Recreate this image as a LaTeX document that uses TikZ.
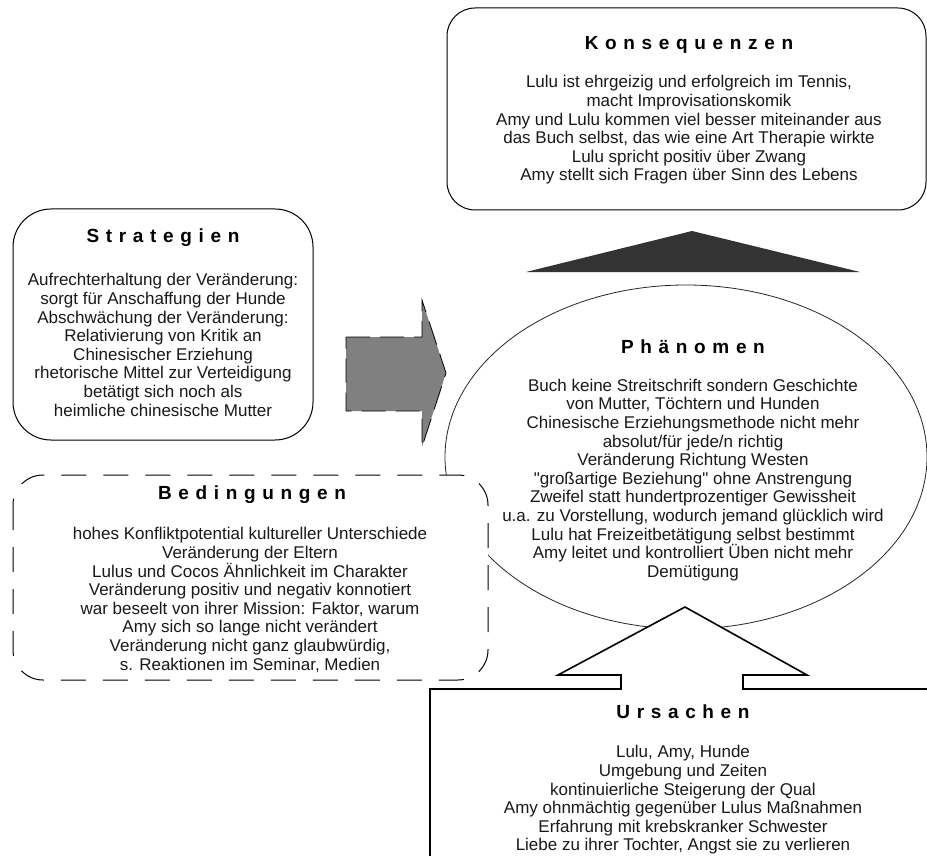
\documentclass[tikz,border=0pt]{standalone}
\usepackage{fontspec}
\setmainfont{Liberation Sans}
\usepackage{tikz}
\newcommand\phqt{\XeTeXglyph\XeTeXcharglyph"22\relax}
\tikzset{
  phbox/.style={draw=black, line width=1pt, fill=white},
  phdash/.style={draw=black, line width=1pt, fill=white, dash pattern=on 25pt off 17pt},
  phoval/.style={draw=black!85, line width=0.8pt, fill=white},
  phshift/.style={fill=black!50, draw=black, line width=0.8pt, dash pattern=on 24pt off 10pt},
  phwedge/.style={fill=black!80, draw=none},
  phcause/.style={fill=white, draw=black, line width=1.6pt, line join=miter},
  phtitle/.style={font=\fontsize{19}{22}\selectfont\bfseries\addfontfeature{LetterSpace=35}, text=black, inner sep=0pt},
  phtext/.style={font=\fontsize{17}{18.6}\selectfont, text=black!90, align=center, inner sep=0pt},
}
\begin{document}
\begin{tikzpicture}[x=1pt, y=-1pt]
\useasboundingbox (0,0) rectangle (927,856);
\clip (0,0) rectangle (927,856);
% frames
\draw[phbox, rounded corners=28pt] (447,8) rectangle (926,210);
\draw[phbox, rounded corners=38pt] (13,209) rectangle (313,440);
\draw[phoval] (686,457) ellipse (241 and 172);
\draw[phdash, rounded corners=30pt] (13,475) rectangle (488,680);
% arrows
\draw[phshift] (346,337) -- (422,337) -- (422,300) -- (446,373) -- (422,447) -- (422,411) -- (346,411) -- cycle;
\draw[phwedge] (526,272) -- (692,231) -- (860,272) -- cycle;
\draw[phcause] (430,870) -- (430,689) -- (621,689) -- (621,675) -- (558,675) -- (685,607)
  -- (807,675) -- (743,675) -- (743,689) -- (940,689) -- (940,870) -- cycle;
% texts
\node[phtitle] (konsTitle) at (689,45) {Konsequenzen};
\node[phtext] (konsText) at (689,130) {Lulu ist ehrgeizig und erfolgreich im Tennis,\\
macht Improvisationskomik\\
Amy und Lulu kommen viel besser miteinander aus\\
das Buch selbst, das wie eine Art Therapie wirkte\\
Lulu spricht positiv über Zwang\\
Amy stellt sich Fragen über Sinn des Lebens};
\node[phtitle] (stratTitle) at (163,238) {Strategien};
\node[phtext] (stratText) at (163,345) {Aufrechterhaltung der Veränderung:\\
sorgt für Anschaffung der Hunde\\
Abschwächung der Veränderung:\\
Relativierung von Kritik an\\
Chinesischer Erziehung\\
rhetorische Mittel zur Verteidigung\\
betätigt sich noch als\\
heimliche chinesische Mutter};
\node[phtitle] (bedTitle) at (252,495) {Bedingungen};
\node[phtext] (bedText) at (250,600) {hohes Konfliktpotential kultureller Unterschiede\\
Veränderung der Eltern\\
Lulus und Cocos Ähnlichkeit im Charakter\\
Veränderung positiv und negativ konnotiert\\
war beseelt von ihrer Mission: Faktor, warum\\
Amy sich so lange nicht verändert\\
Veränderung nicht ganz glaubwürdig,\\
s. Reaktionen im Seminar, Medien};
\node[phtitle] (phaenTitle) at (693,347) {Phänomen};
\node[phtext] (phaenText) at (693,480) {Buch keine Streitschrift sondern Geschichte\\
von Mutter, Töchtern und Hunden\\
Chinesische Erziehungsmethode nicht mehr\\
absolut/für jede/n richtig\\
Veränderung Richtung Westen\\
\phqt großartige Beziehung\phqt{} ohne Anstrengung\\
Zweifel statt hundertprozentiger Gewissheit\\
u.a. zu Vorstellung, wodurch jemand glücklich wird\\
Lulu hat Freizeitbetätigung selbst bestimmt\\
Amy leitet und kontrolliert Üben nicht mehr\\
Demütigung};
\node[phtitle] (ursTitle) at (683,712) {Ursachen};
\node[phtext] (ursText) at (683,800) {Lulu, Amy, Hunde\\
Umgebung und Zeiten\\
kontinuierliche Steigerung der Qual\\
Amy ohnmächtig gegenüber Lulus Maßnahmen\\
Erfahrung mit krebskranker Schwester\\
Liebe zu ihrer Tochter, Angst sie zu verlieren};
\end{tikzpicture}
\end{document}
